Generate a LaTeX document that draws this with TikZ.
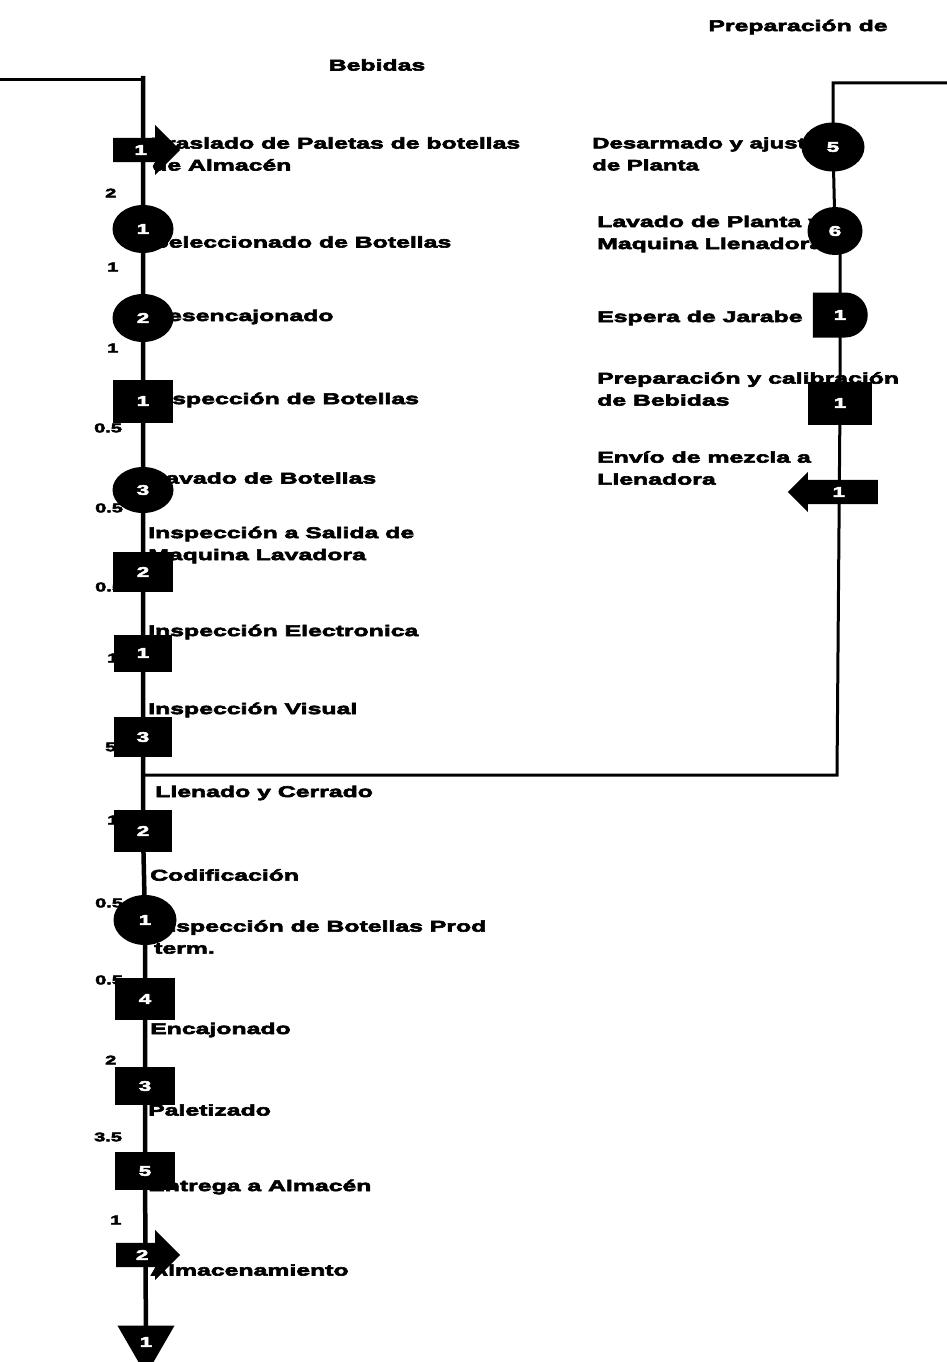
\documentclass[tikz,border=0pt]{standalone}
\usepackage{fontspec}
\newfontfamily\lblfont{Liberation Sans}[UprightFont=* Bold, FakeStretch=1.6, FakeBold=4]
\usetikzlibrary{shapes.geometric, shapes.arrows, shapes.misc}
\pgfdeclarelayer{background}
\pgfsetlayers{background,main}
\tikzstyle{lbl} = [font=\lblfont\fontsize{15.5}{22}\selectfont, inner sep=0pt, align=left, anchor=west]
\tikzstyle{tiempo} = [font=\lblfont\fontsize{12.5}{12.5}\selectfont, inner sep=0pt, anchor=west]
\tikzstyle{simb} = [fill=black, text=white, inner sep=0pt, font=\lblfont\fontsize{14}{14}\selectfont]
\tikzstyle{oper} = [simb, ellipse, minimum width=61pt, minimum height=48pt]
\tikzstyle{insp} = [simb, rectangle, minimum width=60pt, minimum height=40pt]
\tikzstyle{espera} = [simb, rounded rectangle, rounded rectangle left arc=none, minimum width=55pt, minimum height=45pt]
\tikzstyle{transp} = [simb, single arrow, anchor=tail, inner xsep=3pt, inner ysep=7pt]
\tikzstyle{almac} = [simb, regular polygon, regular polygon sides=3, shape border rotate=180, minimum size=66pt]
\tikzstyle{flow} = [line width=4.5pt]
\tikzstyle{flowr} = [line width=3pt]

\begin{document}
\begin{tikzpicture}[x=1pt, y=-1pt]
\useasboundingbox (0,0) rectangle (947,1362);

% titulos
\node[lbl, anchor=center] (tit1) at (798,27) {Preparación de};
\node[lbl, anchor=center] (tit2) at (377,65) {Bebidas};

% textos columna de botellas
\node[lbl] (l1) at (152,154) {Traslado de Paletas de botellas\\de Almacén};
\node[lbl] (l2) at (152,242) {Seleccionado de Botellas};
\node[lbl] (l3) at (150,317) {Desencajonado};
\node[lbl] (l4) at (150,400) {Inspección de Botellas};
\node[lbl] (l5) at (150,478) {Lavado de Botellas};
\node[lbl] (l6) at (148,545) {Inspección a Salida de\\Maquina Lavadora};
\node[lbl] (l7) at (148,632) {Inspección Electronica};
\node[lbl] (l8) at (148,710) {Inspección Visual};
\node[lbl] (l9) at (155,793) {Llenado y Cerrado};
\node[lbl] (l10) at (150,875) {Codificación};
\node[lbl] (l11) at (154,937) {Inspección de Botellas Prod\\term.};
\node[lbl] (l12) at (150,1030) {Encajonado};
\node[lbl] (l13) at (148,1110) {Paletizado};
\node[lbl] (l14) at (148,1187) {Entrega a Almacén};
\node[lbl] (l15) at (150,1270) {Almacenamiento};

% textos columna de bebidas
\node[lbl, font=\lblfont\fontsize{15}{22}\selectfont] (r1) at (592,154) {Desarmado y ajuste\\de Planta};
\node[lbl] (r2) at (597,234) {Lavado de Planta y\\Maquina Llenadora};
\node[lbl] (r3) at (597,318) {Espera de Jarabe};
\node[lbl] (r4) at (597,389) {Preparación y calibración\\de Bebidas};
\node[lbl] (r5) at (597,468) {Envío de mezcla a\\Llenadora};

% tiempos
\foreach \t/\x/\y in {2/105/193, 1/107/267, 1/107/348, 0.5/94/428, 0.5/95/508,
  0.5/95/587, 1/107/658, 5/105/747, 1/107/820, 0.5/95/903, 0.5/95/980,
  2/105/1060, 3.5/94/1137, 1/110/1220}
  \node[tiempo] (t\y) at (\x,\y) {\t};

% simbolos
\node[transp, minimum height=67pt, minimum width=47pt, single arrow head extend=13pt] (tr1) at (113,150) {1};
\node[oper] (op1) at (143,229) {1};
\node[oper] (op2) at (143,318) {2};
\node[insp, minimum height=43pt] (in1) at (143,401) {1};
\node[oper, minimum height=46pt] (op3) at (143,490) {3};
\node[insp] (in2) at (143,572) {2};
\node[insp, minimum width=58pt, minimum height=37pt] (in3) at (143,653) {1};
\node[insp, minimum width=58pt] (in4) at (143,737) {3};
\node[insp, minimum width=58pt, minimum height=42pt] (in5) at (143,831) {2};
\node[oper, minimum width=63pt, minimum height=50pt] (op4) at (145,920) {1};
\node[insp, minimum height=42pt] (in6) at (145,999) {4};
\node[insp, minimum height=38pt] (in7) at (145,1086) {3};
\node[insp, minimum height=38pt] (in8) at (145,1171) {5};
\node[transp, minimum height=64pt, minimum width=50pt, single arrow head extend=13pt] (tr2) at (116,1255) {2};
\node[almac] (al1) at (146,1342) {1};

\node[oper, minimum width=63pt, minimum height=49pt] (op5) at (833,147) {5};
\node[oper, minimum width=55pt] (op6) at (835,231) {6};
\node[espera] (es1) at (840,315) {1};
\node[insp, minimum width=64pt, minimum height=43pt] (in9) at (840,403) {1};
\node[transp, shape border rotate=180, minimum height=90pt, minimum width=40pt, single arrow head extend=8pt] (tr3) at (878,492) {1};

% lineas de flujo
\begin{pgfonlayer}{background}
\coordinate (ini1) at (0,80);
\coordinate (ini2) at (143,76);
\coordinate (ini3) at (947,83);
\coordinate (jr) at (837,775);
\coordinate (jl) at (143,775);
\draw[flowr] (ini1) -- (ini2 |- ini1);
\draw[flow] (ini2) -- (op1.center) -- (op2.center) -- (in1.center) -- (op3.center)
  -- (in2.center) -- (in3.center) -- (in4.center) -- (in5.center) -- (op4.center)
  -- (in6.center) -- (in7.center) -- (in8.center) -- (al1.center);
\draw[flowr] (ini3) -| (op5.center) -- (op6.center) -- (es1.center |- op6.center)
  -- (es1.center) -- (in9.center) -- (jr) -- (jl);
\end{pgfonlayer}
\end{tikzpicture}
\end{document}
